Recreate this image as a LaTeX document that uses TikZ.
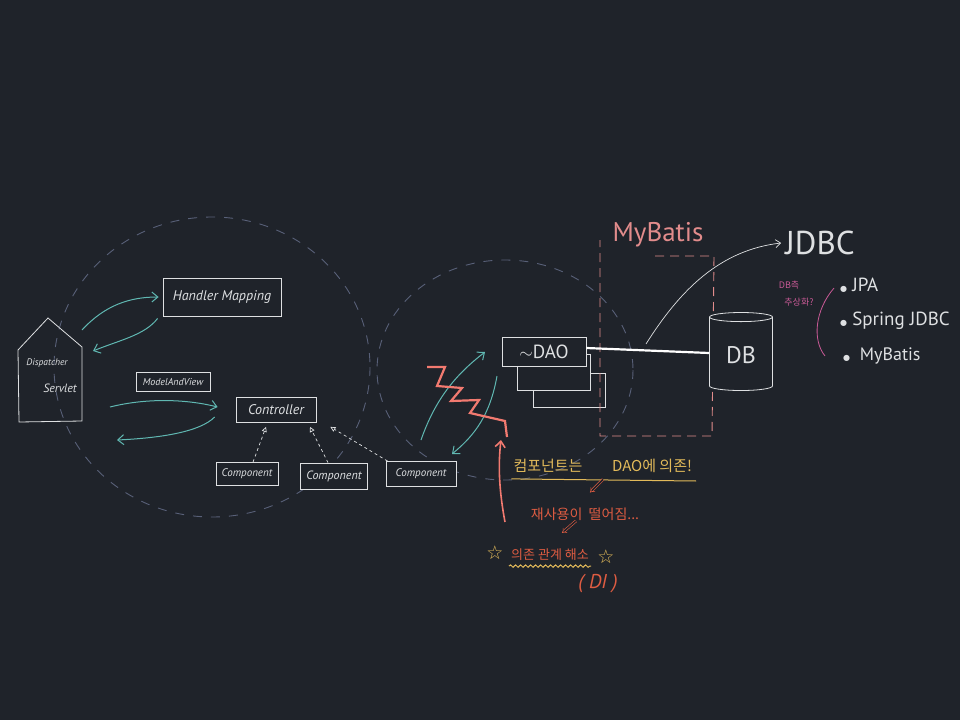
\documentclass[tikz,border=0pt]{standalone}
\usepackage{fontspec}
\setmainfont{PT Sans}
\newfontfamily\kr{Noto Sans CJK KR}
\newfontfamily\sym{DejaVu Sans}
\usetikzlibrary{arrows.meta,shapes.geometric,decorations.pathmorphing,calc}
\definecolor{bg}{RGB}{31,35,42}
\definecolor{chalk}{RGB}{222,224,226}
\definecolor{chalkteal}{RGB}{96,184,178}
\definecolor{dashgray}{RGB}{88,96,120}
\definecolor{mypink}{RGB}{226,140,140}
\definecolor{zigred}{RGB}{242,122,112}
\definecolor{chalkyellow}{RGB}{226,186,90}
\definecolor{chalkred}{RGB}{222,92,66}
\definecolor{magpink}{RGB}{200,90,150}
\tikzset{
  box/.style={draw=chalk, line width=0.8pt, text=chalk, inner sep=2pt, fill=bg},
  tealarrow/.style={draw=chalkteal, line width=1pt, -{Straight Barb[length=6pt,width=10pt]}},
  deparrow/.style={draw=chalk, line width=0.7pt, dash pattern=on 3pt off 3pt, -{Triangle[open,length=5pt,width=5pt]}},
  bigdash/.style={draw=dashgray, line width=0.9pt, dash pattern=on 9pt off 9pt},
  chalktext/.style={text=chalk, inner sep=0pt},
  dblarrow/.style={draw=chalkred, line width=0.6pt, double=bg, double distance=1.6pt, -{Implies}},
}
\begin{document}
\begin{tikzpicture}[x=1pt,y=-1pt]
\path[fill=bg, use as bounding box] (0,0) rectangle (960,720);

% dashed circles
\draw[bigdash] (212,367) ellipse [x radius=158, y radius=150];
\draw[bigdash] (505,370) ellipse [x radius=128, y radius=110];

% Dispatcher servlet house
\draw[draw=chalk, line width=0.8pt] (18,350) -- (48,318) -- (82,347) -- (82,421) -- (19,422) -- cycle;
\node[chalktext, font=\fontsize{9.5}{10}\selectfont\itshape] (disp) at (47,363) {Dispatcher};
\node[chalktext, font=\fontsize{12}{13}\selectfont\itshape] (serv) at (60,388) {Servlet};
\coordinate (hs1) at (82,330);
\coordinate (hs2) at (93,351);
\coordinate (hs3) at (110,407);
\coordinate (hs4) at (117,440);

% Boxes
\node[box, minimum width=118pt, minimum height=38pt, font=\fontsize{14}{15}\selectfont\itshape] (hm) at (222,297) {Handler Mapping};
\node[box, minimum width=74pt, minimum height=19pt, font=\fontsize{10}{11}\selectfont\itshape, inner sep=1pt] (mav) at (173,382) {ModelAndView};
\node[box, minimum width=80pt, minimum height=25pt, font=\fontsize{14}{15}\selectfont\itshape] (ctrl) at (276,410) {Controller};
\node[box, minimum width=62pt, minimum height=23pt, font=\fontsize{11}{12}\selectfont\itshape] (c1) at (247,474) {Component};
\node[box, minimum width=67pt, minimum height=26pt, font=\fontsize{12}{13}\selectfont\itshape] (c2) at (334,476) {Component};
\node[box, minimum width=70pt, minimum height=25pt, font=\fontsize{11}{12}\selectfont\itshape] (c3) at (421,474) {Component};

% teal arrows left
\draw[tealarrow] (hs1) .. controls (105,305) and (130,297) .. ($(hm.west)+(-4,0)$);
\draw[tealarrow] ($(hm.south west)+(-5,2)$) .. controls (145,335) and (120,340) .. (hs2);
\draw[tealarrow] (hs3) .. controls (150,397) and (190,400) .. ($(ctrl.west)+(-18,-3)$);
\draw[tealarrow] ($(ctrl.west)+(-21,7)$) .. controls (200,432) and (160,438) .. (hs4);

% dependency arrows
\draw[deparrow] ($(c1.north)+(6,0)$) -- ($(ctrl.south)+(-10,4)$);
\draw[deparrow] ($(c2.north)+(-6,0)$) -- ($(ctrl.south)+(34,4)$);
\draw[deparrow] ($(c3.north west)+(2,0)$) -- ($(ctrl.south east)+(14,4)$);

% DAO stack
\draw[draw=chalk, line width=0.8pt, fill=bg] (533,373) rectangle (605,407);
\draw[draw=chalk, line width=0.8pt, fill=bg] (517,354) rectangle (590,390);
\node[box, minimum width=84pt, minimum height=29pt, font=\fontsize{19}{20}\selectfont] (dao) at (544,352) {$\sim$DAO};

% MyBatis dashed box
\coordinate (mb1) at (655,256);
\coordinate (mb2) at (714,256);
\coordinate (mb3) at (712,436);
\coordinate (mb4) at (600,436);
\coordinate (mb5) at (600,240);
\draw[draw=mypink, line width=0.9pt, dash pattern=on 9pt off 6pt] (mb1) -- (mb2) -- (mb3) -- (mb4) -- (mb5);
\node[text=mypink, font=\fontsize{27}{28}\selectfont, inner sep=0pt] (mbt) at (658,235) {MyBatis};

% DB cylinder
\node[cylinder, shape border rotate=90, draw=chalk, line width=0.8pt, fill=bg, aspect=0.25, minimum width=63pt, minimum height=78pt, text=chalk, font=\fontsize{24}{26}\selectfont] (db) at (741,355) {DB};
\draw[draw=white, line width=2.2pt] ($(dao.east)+(0,-4)$) -- ($(db.west)+(0,-2)$);

% JDBC
\node[chalktext, font=\fontsize{33}{34}\selectfont] (jdbc) at (820,243) {JDBC};
\coordinate (jstart) at (646,344);
\draw[draw=chalk, line width=0.7pt, -{Straight Barb[length=5pt,width=8pt]}] (jstart) .. controls (680,290) and (720,250) .. ($(jdbc.west)+(-4,0)$);

% pink note
\node[text=magpink, font=\kr\fontsize{9}{10}\selectfont, inner sep=0pt] (pn1) at (789,285) {DB측};
\node[text=magpink, font=\kr\fontsize{9}{10}\selectfont, inner sep=0pt] (pn2) at (799,302) {추상화?};
\coordinate (par1) at (834,288);
\coordinate (par2) at (825,356);
\draw[draw=magpink, line width=0.8pt] (par1) .. controls (815,310) and (812,340) .. (par2);

% bullets
\node[chalktext, font=\fontsize{19}{20}\selectfont, anchor=west] (b1) at (840,285) {{\sym\fontsize{8}{8}\selectfont ●} JPA};
\node[chalktext, font=\fontsize{19}{20}\selectfont, anchor=west] (b2) at (840,321) {{\sym\fontsize{8}{8}\selectfont ●} Spring JDBC};
\node[chalktext, font=\fontsize{18}{19}\selectfont, anchor=west] (b3) at (843,356) {{\sym\fontsize{8}{8}\selectfont ●}\; MyBatis};

% teal arrows near DAO
\coordinate (t1) at (421,440);
\coordinate (t2) at (485,352);
\coordinate (t3) at (497,376);
\coordinate (t4) at (452,454);
\draw[tealarrow] (t1) .. controls (435,400) and (455,375) .. (t2);
\draw[tealarrow] (t3) .. controls (490,415) and (475,435) .. (t4);

% red zigzag
\draw[draw=zigred, line width=2.2pt, line join=miter] (427,367) -- (445,367) -- (437,386) -- (462,388) -- (451,401) -- (479,400) -- (470,413) -- (505,421) -- (507,437);

% red arrow up
\coordinate (ra1) at (505,522);
\coordinate (ra2) at (501,440);
\draw[draw=zigred, line width=1.6pt, -{Straight Barb[length=6pt,width=10pt]}] (ra1) .. controls (499,490) and (498,465) .. (ra2);

% yellow text
\node[text=chalkyellow, font=\kr\fontsize{15}{16}\selectfont, inner sep=0pt] (y1) at (548,466) {컴포넌트는};
\node[text=chalkyellow, font=\kr\fontsize{15}{16}\selectfont, inner sep=0pt] (y2) at (652,466) {DAO에 의존!};
\draw[draw=chalkyellow, line width=1pt] ($(y1.south west)+(-2,6)$) -- ($(y2.south east)+(4,8)$);

% red chain
\node[text=chalkred, font=\kr\fontsize{14}{15}\selectfont, inner sep=0pt] (r1) at (585,514) {재사용이 \ 떨어짐...};
\draw[dblarrow] ($(r1.north)+(18,-28)$) -- ($(r1.north)+(5,-15)$);
\node[text=chalkred, font=\kr\fontsize{13}{14}\selectfont, inner sep=0pt] (r2) at (550,555) {의존 관계 해소};
\draw[dblarrow] ($(r2.north)+(26,-28)$) -- ($(r2.north)+(12,-16)$);
\node[text=chalkyellow, font=\sym\fontsize{19}{19}\selectfont, inner sep=0pt] (s1) at (495,553) {☆};
\node[text=chalkyellow, font=\sym\fontsize{19}{19}\selectfont, inner sep=0pt] (s2) at (606,557) {☆};
\draw[draw=chalkyellow, line width=1pt, decorate, decoration={snake, amplitude=1.2pt, segment length=5pt}] ($(r2.south west)+(-2,5)$) -- ($(r2.south east)+(2,5)$);
\node[text=chalkred, font=\fontsize{20}{21}\selectfont\itshape, inner sep=0pt] (di) at (598,584) {( DI )};
\end{tikzpicture}
\end{document}
